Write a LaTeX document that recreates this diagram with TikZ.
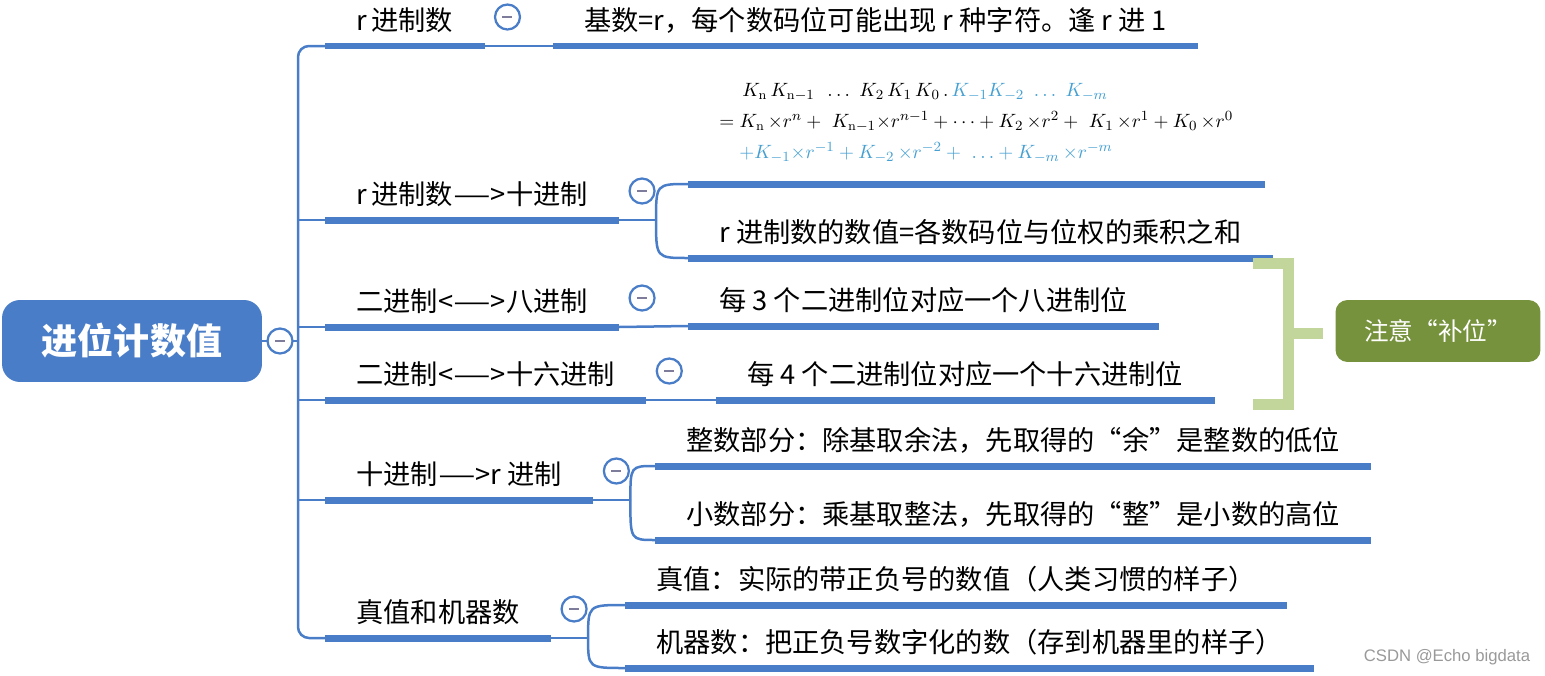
\documentclass[tikz,border=0pt]{standalone}
\usepackage{amsmath,amssymb}
\usepackage{fontspec}
\usepackage{xcolor}
\usetikzlibrary{calc}
\newfontfamily\cjk{Noto Sans CJK SC}
\newfontfamily\wmfont{Liberation Sans}
\definecolor{linkblue}{RGB}{74,125,200}
\definecolor{fracblue}{RGB}{70,160,210}
\definecolor{brackgreen}{RGB}{194,214,155}
\definecolor{notegreen}{RGB}{118,146,60}
\definecolor{minusgray}{RGB}{125,125,155}
\newcommand{\longdash}{\scalebox{1.55}[1]{—}}
\newcommand{\tm}{\,{\times}}

\tikzset{
  topic/.style={anchor=south west, inner xsep=0.62cm, inner ysep=0pt,
    text height=0.5cm, text depth=0.3cm, font=\cjk\fontsize{15.5}{18}\selectfont},
  formula/.style={anchor=south west, inner xsep=0.62cm, inner ysep=0.42cm,
    align=left, font=\fontsize{10.8}{17.5}\selectfont},
  link/.style={linkblue, line width=0.05cm},
  bar/.style={linkblue, line width=0.14cm},
  fold/.style={circle, draw=linkblue, line width=0.045cm, fill=white,
    minimum size=0.5cm, inner sep=0pt,
    path picture={\draw[minusgray, line width=0.05cm]
      ($(path picture bounding box.center)+(-0.1cm,0)$) --
      ($(path picture bounding box.center)+(0.1cm,0)$);}},
  root/.style={rounded corners=0.36cm, fill=linkblue, text=white,
    minimum width=5.2cm, minimum height=1.64cm,
    font=\cjk\bfseries\fontsize{20.5}{24}\selectfont},
  note/.style={rounded corners=0.24cm, fill=notegreen, text=white,
    minimum width=4.1cm, minimum height=1.24cm,
    font=\cjk\fontsize{14}{17}\selectfont},
  brack/.style={brackgreen, line width=0.22cm},
}

\begin{document}
\begin{tikzpicture}[x=0.02cm, y=-0.02cm]
    \useasboundingbox (0,0) rectangle (1545,676);

    \node[root] (root) at (132,341) {进位计数值};
    \coordinate (tr) at (298,341);
    \draw[link] (root.east) -- (tr);
    \node[fold] (f0) at (280,341) {};

    \foreach \name/\x/\y/\txt in {l1/325/46/{r\,进制数}, l2/325/220/{r\,进制数\longdash>十进制},
                                  l3/325/327/{二进制<\longdash>八进制}, l4/325/400/{二进制<\longdash>十六进制},
                                  l5/325/500/{十进制\longdash>r 进制}, l6/325/638/{真值和机器数}}
      \node[topic] (\name) at (\x,\y) {\txt};

    \foreach \name/\x/\y/\txt in {a1/553/46/{基数=r，每个数码位可能出现 r 种字符。逢 r 进 1},
                                  b2/688/258/{r 进制数的数值=各数码位与位权的乘积之和},
                                  c1/688/326/{每 3 个二进制位对应一个八进制位},
                                  d1/716/400/{每 4 个二进制位对应一个十六进制位},
                                  e1/655/466/{整数部分：除基取余法，先取得的“余”是整数的低位},
                                  e2/655/540/{小数部分：乘基取整法，先取得的“整”是小数的高位},
                                  f1/625/605/{真值：实际的带正负号的数值（人类习惯的样子）},
                                  f2/625/668/{机器数：把正负号数字化的数（存到机器里的样子）}}
      \node[topic] (\name) at (\x,\y) {\txt};

    \node[formula] (b1) at (688,184) {%
      \hspace*{0.46cm}$K_{\mathrm{n}}\,K_{\mathrm{n}-1}\ \,\ldots\ K_2\,K_1\,K_0\,.\,
        \textcolor{fracblue}{K_{-1}K_{-2}\ \ldots\ K_{-m}}$\\
      $=K_{\mathrm{n}}\tm r^n+\ K_{\mathrm{n}-1}{\times}r^{n-1}+\cdots+K_2\tm r^2
        +\ K_1\tm r^1+K_0\tm r^0$\\
      \hspace*{0.4cm}\textcolor{fracblue}{$+K_{-1}{\times}r^{-1}+K_{-2}\tm r^{-2}+\ \ldots
        +K_{-m}\tm r^{-m}$}};

    \foreach \name in {l1,l2,l3,l4,l5,l6,a1,b1,b2,c1,d1,e1,e2,f1,f2}
      \draw[bar] (\name.south west) -- (\name.south east);

    \draw[link, rounded corners=0.22cm] (l1.south west) -| (tr) |- (l6.south west);
    \foreach \name in {l2,l3,l4,l5}
      \draw[link] (tr |- \name.south west) -- (\name.south west);

    \draw[link] (l1.south east) -- (a1.south west);
    \draw[link] (l3.south east) -- (c1.south west);
    \draw[link] (l4.south east) -- (d1.south west);
    \foreach \up/\ka/\kb in {l2/b1/b2, l5/e1/e2, l6/f1/f2} {
      \draw[link] (\up.south east) -- ++(37,0) coordinate (s\up);
      \draw[link] (s\up) .. controls (s\up |- \ka.south west) .. (\ka.south west);
      \draw[link] (s\up) .. controls (s\up |- \kb.south west) .. (\kb.south west);
    }

    \foreach \name in {l1,l2,l3,l4,l5,l6}
      \node[fold, xshift=0.46cm, yshift=0.58cm] (f\name) at (\name.south east) {};

    \coordinate (brk) at (1288,333);
    \draw[brack] (1253,263) -- (1288,263) -- (1288,404) -- (1253,404);
    \draw[brack] (brk) -- ++(35,0);
    \node[note] (note) at (1438,331) {注意“补位”};

    \node[text=gray!80, font=\wmfont\fontsize{9.5}{11}\selectfont] (wm) at (1447,657) {CSDN @Echo bigdata};
  \end{tikzpicture}
\end{document}
